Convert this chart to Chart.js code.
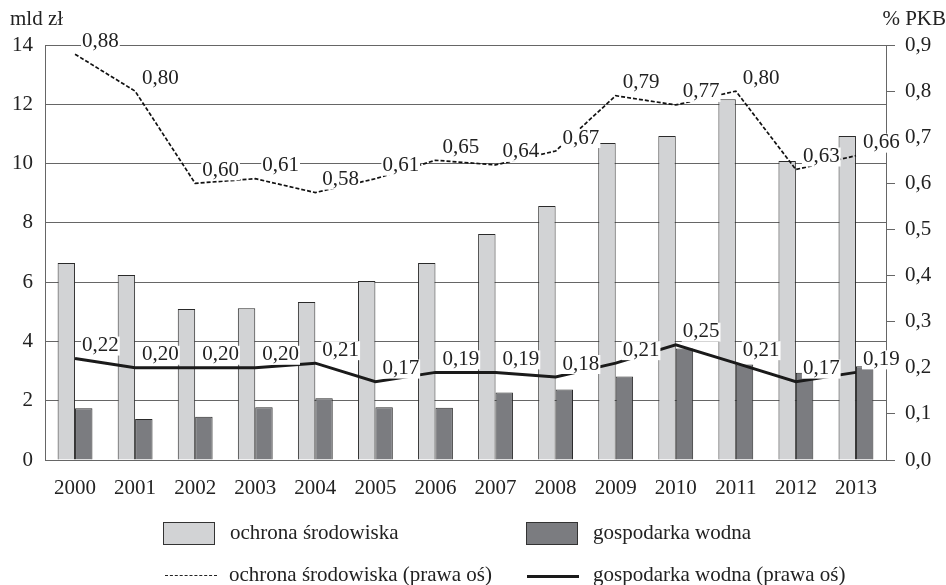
<!DOCTYPE html>
<html>
<head>
<meta charset="utf-8">
<script src="https://cdn.jsdelivr.net/npm/chart.js@4"></script>
<style>
  body { margin: 0; background: #fff; }
  #wrap { position: relative; width: 946px; height: 585px; }
  .leg { position: absolute; font-family: "Liberation Serif", serif; font-size: 21px; color: #222; line-height: 22px; white-space: nowrap; }
  .box { position: absolute; width: 50px; height: 21px; border: 1px solid #333; }
  .lin { position: absolute; width: 52px; height: 0; }
</style>
</head>
<body>
<div id="wrap">
  <canvas id="wykres" width="946" height="585"></canvas>
  <div class="box" style="left:163px;top:522px;background:#d2d3d5"></div>
  <div class="leg" style="left:230px;top:521px">ochrona środowiska</div>
  <div class="box" style="left:526px;top:522px;background:#7b7c80"></div>
  <div class="leg" style="left:593px;top:521px">gospodarka wodna</div>
  <div class="lin" style="left:165px;top:575px;border-top:1.5px dashed #222"></div>
  <div class="leg" style="left:229px;top:563px">ochrona środowiska (prawa oś)</div>
  <div class="lin" style="left:527px;top:575px;border-top:3px solid #1a1a1a"></div>
  <div class="leg" style="left:593px;top:563px">gospodarka wodna (prawa oś)</div>
</div>
<script>
const lata = ['2000','2001','2002','2003','2004','2005','2006','2007','2008','2009','2010','2011','2012','2013']

// mld zł (lewa oś)
const ochronaMld = [6.65, 6.24, 5.09, 5.12, 5.33, 6.04, 6.65, 7.62, 8.57, 10.69, 10.93, 12.17, 10.09, 10.93]
const wodnaMld = [1.75, 1.38, 1.46, 1.78, 2.08, 1.78, 1.76, 2.28, 2.38, 2.82, 3.76, 3.22, 2.94, 3.16]

// % PKB (prawa oś)
const ochronaPkb = [0.88, 0.80, 0.60, 0.61, 0.58, 0.61, 0.65, 0.64, 0.67, 0.79, 0.77, 0.80, 0.63, 0.66]
const wodnaPkb = [0.22, 0.20, 0.20, 0.20, 0.21, 0.17, 0.19, 0.19, 0.18, 0.21, 0.25, 0.21, 0.17, 0.19]

const czcionka = '"Liberation Serif", serif'
const przecinek = (v, d) => v.toFixed(d).replace('.', ',')

// etykiety wartosci na liniach (biale tlo jak w oryginale)
const etykiety = {
  id: 'etykiety',
  afterDatasetsDraw(chart) {
    const ctx = chart.ctx
    ctx.save()
    ctx.font = '21px ' + czcionka
    ctx.textBaseline = 'middle'
    ctx.textAlign = 'left'
    chart.data.datasets.forEach((ds, i) => {
      if (ds.type !== 'line') return
      chart.getDatasetMeta(i).data.forEach((pt, j) => {
        const txt = przecinek(ds.data[j], 2)
        const w = ctx.measureText(txt).width
        const x = pt.x + 7
        const y = pt.y - 13
        ctx.fillStyle = '#fff'
        ctx.fillRect(x - 1, y - 9, w + 2, 19)
        ctx.fillStyle = '#222'
        ctx.fillText(txt, x, y)
      })
    })
    ctx.restore()
  }
}

const tytulyOsi = {
  id: 'tytulyOsi',
  afterDraw(chart) {
    const ctx = chart.ctx
    ctx.save()
    ctx.font = '21px ' + czcionka
    ctx.fillStyle = '#222'
    ctx.textBaseline = 'alphabetic'
    ctx.textAlign = 'left'
    ctx.fillText('mld zł', 10, 25)
    ctx.textAlign = 'right'
    ctx.fillText('% PKB', 946, 25)
    ctx.restore()
  }
}

Chart.defaults.font.family = czcionka
Chart.defaults.font.size = 21
Chart.defaults.color = '#222'

new Chart(document.getElementById('wykres'), {
  data: {
    labels: lata,
    datasets: [
      { type: 'line', label: 'ochrona środowiska (prawa oś)', data: ochronaPkb, yAxisID: 'y1',
        borderColor: '#111', borderWidth: 1.7, borderDash: [4, 2], pointRadius: 0, tension: 0, order: 1 },
      { type: 'line', label: 'gospodarka wodna (prawa oś)', data: wodnaPkb, yAxisID: 'y1',
        borderColor: '#1a1a1a', borderWidth: 3, pointRadius: 0, tension: 0, order: 1 },
      { type: 'bar', label: 'ochrona środowiska', data: ochronaMld, yAxisID: 'y',
        backgroundColor: '#d2d3d5', borderColor: '#2a2a2a', borderWidth: 1,
        categoryPercentage: 0.58, barPercentage: 1, order: 2 },
      { type: 'bar', label: 'gospodarka wodna', data: wodnaMld, yAxisID: 'y',
        backgroundColor: '#7b7c80', borderColor: '#2a2a2a', borderWidth: 1,
        categoryPercentage: 0.58, barPercentage: 1, order: 2 }
    ]
  },
  options: {
    responsive: false,
    animation: false,
    devicePixelRatio: 1,
    layout: { padding: { top: 45, bottom: 85, left: 0, right: 0 } },
    plugins: {
      legend: { display: false },
      tooltip: { enabled: false }
    },
    scales: {
      x: {
        grid: { display: false },
        border: { display: false },
        ticks: { padding: 8, maxRotation: 0 },
        afterFit(s) { s.height = 40 }
      },
      y: {
        position: 'left',
        min: 0, max: 14,
        ticks: { stepSize: 2, padding: 12 },
        grid: { color: '#666', lineWidth: 1, drawTicks: false },
        border: { display: true, color: '#666' },
        afterFit(s) { s.width = 45 }
      },
      y1: {
        position: 'right',
        min: 0, max: 0.9,
        ticks: { stepSize: 0.1, padding: 10, callback: v => przecinek(v, 1) },
        grid: { drawOnChartArea: false, color: '#666', tickLength: 9 },
        border: { display: true, color: '#666' },
        afterFit(s) { s.width = 60 }
      }
    }
  },
  plugins: [etykiety, tytulyOsi]
})
</script>
</body>
</html>
